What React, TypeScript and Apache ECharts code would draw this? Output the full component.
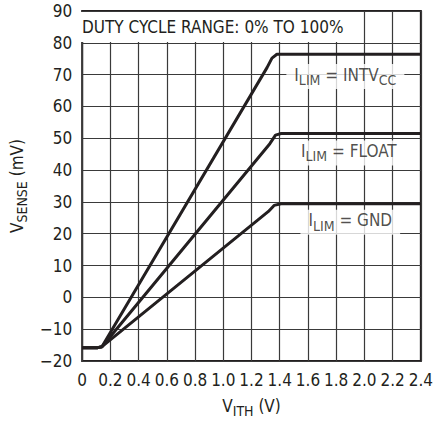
import React, { useEffect, useRef } from "react";
import * as echarts from "echarts";

const FONT = "'Liberation Sans Narrow', 'DejaVu Sans Condensed', 'Arial Narrow', sans-serif";

const xTicks = [0, 0.2, 0.4, 0.6, 0.8, 1.0, 1.2, 1.4, 1.6, 1.8, 2.0, 2.2, 2.4];
const yTicks = [-20, -10, 0, 10, 20, 30, 40, 50, 60, 70, 80, 90];

const intvccCurve: [number, number][] = [
  [0, -15.8], [0.11, -15.8], [0.14, -15.5], [1.31, 72.2], [1.345, 75.2], [1.38, 76.4], [2.4, 76.4],
];
const floatCurve: [number, number][] = [
  [0, -15.8], [0.11, -15.8], [0.14, -15.5], [1.33, 48.3], [1.37, 51.0], [1.41, 51.5], [2.4, 51.5],
];
const gndCurve: [number, number][] = [
  [0, -15.8], [0.11, -15.8], [0.14, -15.5], [1.32, 27.0], [1.36, 28.9], [1.41, 29.4], [2.4, 29.4],
];

const curveLabels = [
  { pos: [1.865, 69.4], main: "I", sub: "LIM", rest: " = INTV", sub2: "CC" },
  { pos: [1.89, 45.4], main: "I", sub: "LIM", rest: " = FLOAT", sub2: "" },
  { pos: [1.9, 23.6], main: "I", sub: "LIM", rest: " = GND", sub2: "" },
];

const titleText = "DUTY CYCLE RANGE: 0% TO 100%";

export default function App() {
  const ref = useRef<HTMLDivElement>(null);
  useEffect(() => {
    if (!ref.current) return;
    const chart = echarts.init(ref.current, null, { renderer: "svg" });
    const richBase = {
      m: { fontFamily: FONT, fontSize: 17, color: "#231f20", verticalAlign: "top" as const },
      s: { fontFamily: FONT, fontSize: 14, color: "#231f20", verticalAlign: "top" as const, padding: [7, 0, 0, 0] },
    };
    const lineStyle = { color: "#231f20", width: 3 };
    chart.setOption({
      animation: false,
      backgroundColor: "#fff",
      grid: {
        left: 74, top: 11, right: 9, bottom: 60,
        show: true, borderColor: "#231f20", borderWidth: 2, backgroundColor: "transparent",
      },
      xAxis: {
        type: "value", min: xTicks[0], max: xTicks[xTicks.length - 1], interval: 0.2,
        axisLine: { show: false },
        axisTick: { show: false },
        splitLine: { show: true, lineStyle: { color: "#3a3a3a", width: 1.2 } },
        axisLabel: {
          fontFamily: FONT, fontSize: 17, color: "#231f20", margin: 10,
          formatter: (v: number) => (Math.abs(v) < 1e-9 ? "0" : v.toFixed(1)),
        },
        name: "{m|V}{s|ITH}{m| (V)}",
        nameLocation: "middle", nameGap: 36,
        nameTextStyle: { rich: richBase },
      },
      yAxis: {
        type: "value", min: yTicks[0], max: yTicks[yTicks.length - 1], interval: 10,
        axisLine: { show: false },
        axisTick: { show: false },
        splitLine: { show: true, lineStyle: { color: "#3a3a3a", width: 1.2 } },
        axisLabel: {
          fontFamily: FONT, fontSize: 17, color: "#231f20", margin: 10,
          formatter: (v: number) => String(v).replace("-", "\u2212"),
        },
        name: "{m|V}{s|SENSE}{m| (mV)}",
        nameLocation: "middle", nameGap: 42, nameRotate: 90,
        nameTextStyle: { rich: richBase },
      },
      graphic: [
        {
          type: "rect", shape: { x: 75, y: 12, width: 272, height: 30 },
          style: { fill: "#fff" }, z: 50,
        },
        {
          type: "text", x: 82, y: 27, z: 51,
          style: {
            text: titleText, fontFamily: FONT, fontSize: 17, fill: "#231f20",
            verticalAlign: "middle", align: "left",
          },
        },
      ],
      series: [
        { type: "line", data: intvccCurve, symbol: "none", lineStyle, z: 3 },
        { type: "line", data: floatCurve, symbol: "none", lineStyle, z: 3 },
        { type: "line", data: gndCurve, symbol: "none", lineStyle, z: 3 },
        {
          type: "scatter", symbolSize: 0, z: 4,
          data: curveLabels.map((l) => ({
            value: l.pos,
            label: {
              show: true, position: "inside",
              formatter: `{m|${l.main}}{s|${l.sub}}{m|${l.rest}}` + (l.sub2 ? `{s|${l.sub2}}` : ""),
              backgroundColor: "#fff", padding: [2, 8, 2, 8],
              rich: richBase,
            },
          })),
        },
      ],
    });
    return () => chart.dispose();
  }, []);
  return <div ref={ref} style={{ position: "fixed", left: 0, top: 0, width: 436, height: 423 }} />;
}
